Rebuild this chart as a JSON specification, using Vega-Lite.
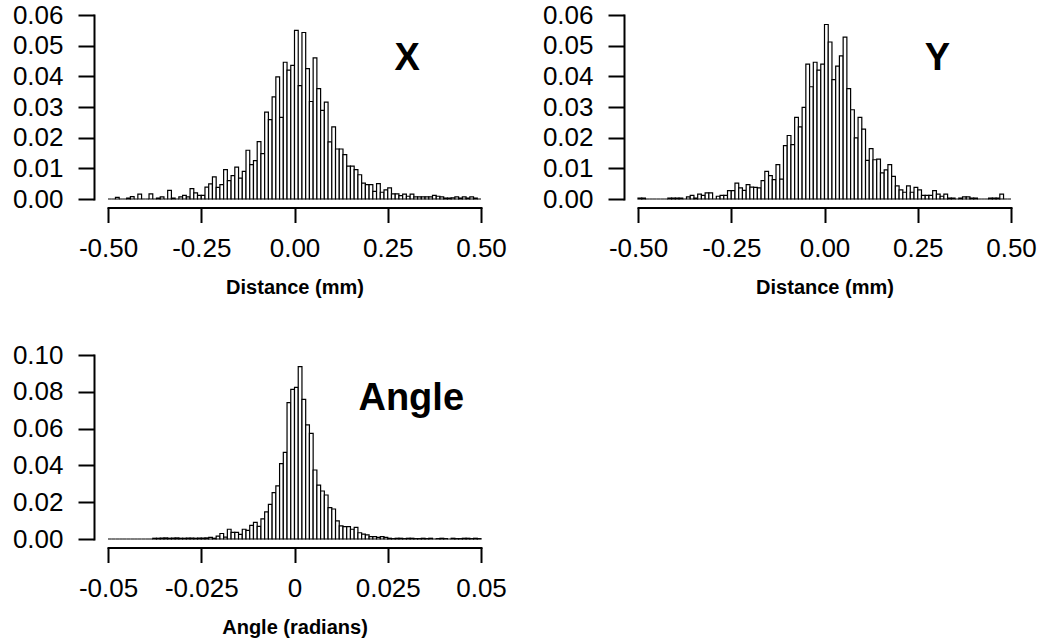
{
"$schema": "https://vega.github.io/schema/vega-lite/v6.json",
"background": "white",
"padding": {"left": 12, "top": 2, "right": 5, "bottom": 5},
"columns": 2,
"spacing": {"row": 156, "column": 157},
"bounds": "flush",
"concat": [
  {"width": 373, "height": 184,
   "layer": [
    {"data": {"name": "xd"},
     "mark": {"type": "rect", "fill": "white", "stroke": "black", "strokeWidth": 1.2},
     "encoding": {
      "x": {"field": "b", "type": "quantitative", "scale": {"domain": [-0.5, 0.5], "nice": false, "zero": false},
            "axis": {"values": [-0.5, -0.25, 0, 0.25, 0.5], "tickCount": 20, "title": "Distance (mm)", "labelOverlap": false, "labelExpr": "(datum.value < 0 ? '-' : '') + format(abs(datum.value), '.2f')"}},
      "x2": {"field": "e"},
      "y": {"field": "v", "type": "quantitative", "scale": {"domain": [0, 0.06], "nice": false},
            "axis": {"values": [0, 0.01, 0.02, 0.03, 0.04, 0.05, 0.06], "tickCount": 20, "title": null, "labelOverlap": false, "labelExpr": "format(datum.value, '.2f')"}},
      "y2": {"datum": 0}
     }},
    {"data": {"values": [{"t": "X", "tx": 0.302, "ty": 0.0421}]},
     "mark": {"type": "text", "fontSize": 38, "fontWeight": "bold", "baseline": "alphabetic", "align": "center", "color": "black"},
     "encoding": {"x": {"field": "tx", "type": "quantitative"}, "y": {"field": "ty", "type": "quantitative"}, "text": {"field": "t"}}}
   ]},
  {"width": 373, "height": 184,
   "layer": [
    {"data": {"name": "yd"},
     "mark": {"type": "rect", "fill": "white", "stroke": "black", "strokeWidth": 1.2},
     "encoding": {
      "x": {"field": "b", "type": "quantitative", "scale": {"domain": [-0.5, 0.5], "nice": false, "zero": false},
            "axis": {"values": [-0.5, -0.25, 0, 0.25, 0.5], "tickCount": 20, "title": "Distance (mm)", "labelOverlap": false, "labelExpr": "(datum.value < 0 ? '-' : '') + format(abs(datum.value), '.2f')"}},
      "x2": {"field": "e"},
      "y": {"field": "v", "type": "quantitative", "scale": {"domain": [0, 0.06], "nice": false},
            "axis": {"values": [0, 0.01, 0.02, 0.03, 0.04, 0.05, 0.06], "tickCount": 20, "title": null, "labelOverlap": false, "labelExpr": "format(datum.value, '.2f')"}},
      "y2": {"datum": 0}
     }},
    {"data": {"values": [{"t": "Y", "tx": 0.303, "ty": 0.0421}]},
     "mark": {"type": "text", "fontSize": 38, "fontWeight": "bold", "baseline": "alphabetic", "align": "center", "color": "black"},
     "encoding": {"x": {"field": "tx", "type": "quantitative"}, "y": {"field": "ty", "type": "quantitative"}, "text": {"field": "t"}}}
   ]},
 {"width": 373, "height": 184,
  "layer": [
   {"data": {"name": "ad"},
    "mark": {"type": "rect", "fill": "white", "stroke": "black", "strokeWidth": 1.2},
    "encoding": {
     "x": {"field": "b", "type": "quantitative", "scale": {"domain": [-0.05, 0.05], "nice": false, "zero": false},
           "axis": {"values": [-0.05, -0.025, 0, 0.025, 0.05], "tickCount": 20, "title": "Angle (radians)", "labelOverlap": false, "labelExpr": "datum.value == 0 ? '0' : (datum.value < 0 ? '-' : '') + format(abs(datum.value), abs(datum.value) > 0.04 ? '.2f' : '.3f')"}},
     "x2": {"field": "e"},
     "y": {"field": "v", "type": "quantitative", "scale": {"domain": [0, 0.1], "nice": false},
           "axis": {"values": [0, 0.02, 0.04, 0.06, 0.08, 0.1], "tickCount": 20, "title": null, "labelOverlap": false, "labelExpr": "format(datum.value, '.2f')"}},
     "y2": {"datum": 0}
    }},
   {"data": {"values": [{"t": "Angle", "tx": 0.0313, "ty": 0.0701}]},
    "mark": {"type": "text", "fontSize": 38, "fontWeight": "bold", "baseline": "alphabetic", "align": "center", "color": "black"},
    "encoding": {"x": {"field": "tx", "type": "quantitative"}, "y": {"field": "ty", "type": "quantitative"}, "text": {"field": "t"}}}
  ]}
],
"datasets": {
 "xd": [
  {"b":-0.50,"e":-0.49,"v":0},{"b":-0.49,"e":-0.48,"v":0},{"b":-0.48,"e":-0.47,"v":0.0005},{"b":-0.47,"e":-0.46,"v":0},{"b":-0.46,"e":-0.45,"v":0},
  {"b":-0.45,"e":-0.44,"v":0.0003},{"b":-0.44,"e":-0.43,"v":0.0008},{"b":-0.43,"e":-0.42,"v":0},{"b":-0.42,"e":-0.41,"v":0.0016},{"b":-0.41,"e":-0.40,"v":0},
  {"b":-0.40,"e":-0.39,"v":0},{"b":-0.39,"e":-0.38,"v":0.0017},{"b":-0.38,"e":-0.37,"v":0},{"b":-0.37,"e":-0.36,"v":0.0003},{"b":-0.36,"e":-0.35,"v":0.0007},
  {"b":-0.35,"e":-0.34,"v":0},{"b":-0.34,"e":-0.33,"v":0.0028},{"b":-0.33,"e":-0.32,"v":0.0003},{"b":-0.32,"e":-0.31,"v":0},{"b":-0.31,"e":-0.30,"v":0.0007},
  {"b":-0.30,"e":-0.29,"v":0.0012},{"b":-0.29,"e":-0.28,"v":0.0007},{"b":-0.28,"e":-0.27,"v":0.0034},{"b":-0.27,"e":-0.26,"v":0.002},{"b":-0.26,"e":-0.25,"v":0.0012},
  {"b":-0.25,"e":-0.24,"v":0.0012},{"b":-0.24,"e":-0.23,"v":0.0039},{"b":-0.23,"e":-0.22,"v":0.0049},{"b":-0.22,"e":-0.21,"v":0.0072},{"b":-0.21,"e":-0.20,"v":0.0038},
  {"b":-0.20,"e":-0.19,"v":0.0047},{"b":-0.19,"e":-0.18,"v":0.0096},{"b":-0.18,"e":-0.17,"v":0.006},{"b":-0.17,"e":-0.16,"v":0.0076},{"b":-0.16,"e":-0.15,"v":0.0104},
  {"b":-0.15,"e":-0.14,"v":0.0068},{"b":-0.14,"e":-0.13,"v":0.009},{"b":-0.13,"e":-0.12,"v":0.0159},{"b":-0.12,"e":-0.11,"v":0.0112},{"b":-0.11,"e":-0.10,"v":0.0125},
  {"b":-0.10,"e":-0.09,"v":0.0187},{"b":-0.09,"e":-0.08,"v":0.0148},{"b":-0.08,"e":-0.07,"v":0.0283},{"b":-0.07,"e":-0.06,"v":0.0259},{"b":-0.06,"e":-0.05,"v":0.0333},
  {"b":-0.05,"e":-0.04,"v":0.0398},{"b":-0.04,"e":-0.03,"v":0.0266},{"b":-0.03,"e":-0.02,"v":0.0446},{"b":-0.02,"e":-0.01,"v":0.042},{"b":-0.01,"e":0.00,"v":0.0436},
  {"b":0.00,"e":0.01,"v":0.055},{"b":0.01,"e":0.02,"v":0.037},{"b":0.02,"e":0.03,"v":0.0543},{"b":0.03,"e":0.04,"v":0.0425},{"b":0.04,"e":0.05,"v":0.0318},
  {"b":0.05,"e":0.06,"v":0.046},{"b":0.06,"e":0.07,"v":0.036},{"b":0.07,"e":0.08,"v":0.0289},{"b":0.08,"e":0.09,"v":0.0316},{"b":0.09,"e":0.10,"v":0.0186},
  {"b":0.10,"e":0.11,"v":0.0235},{"b":0.11,"e":0.12,"v":0.0163},{"b":0.12,"e":0.13,"v":0.0163},{"b":0.13,"e":0.14,"v":0.0145},{"b":0.14,"e":0.15,"v":0.0107},
  {"b":0.15,"e":0.16,"v":0.0107},{"b":0.16,"e":0.17,"v":0.0096},{"b":0.17,"e":0.18,"v":0.0079},{"b":0.18,"e":0.19,"v":0.0052},{"b":0.19,"e":0.20,"v":0.0047},
  {"b":0.20,"e":0.21,"v":0.0047},{"b":0.21,"e":0.22,"v":0.0025},{"b":0.22,"e":0.23,"v":0.005},{"b":0.23,"e":0.24,"v":0.0022},{"b":0.24,"e":0.25,"v":0.003},
  {"b":0.25,"e":0.26,"v":0.0036},{"b":0.26,"e":0.27,"v":0.0017},{"b":0.27,"e":0.28,"v":0.0017},{"b":0.28,"e":0.29,"v":0.0011},{"b":0.29,"e":0.30,"v":0.0016},
  {"b":0.30,"e":0.31,"v":0.0009},{"b":0.31,"e":0.32,"v":0.0016},{"b":0.32,"e":0.33,"v":0.0007},{"b":0.33,"e":0.34,"v":0.0007},{"b":0.34,"e":0.35,"v":0.0007},
  {"b":0.35,"e":0.36,"v":0.0007},{"b":0.36,"e":0.37,"v":0.0007},{"b":0.37,"e":0.38,"v":0.0012},{"b":0.38,"e":0.39,"v":0.0009},{"b":0.39,"e":0.40,"v":0.0007},
  {"b":0.40,"e":0.41,"v":0.0003},{"b":0.41,"e":0.42,"v":0.0003},{"b":0.42,"e":0.43,"v":0.0004},{"b":0.43,"e":0.44,"v":0.0007},{"b":0.44,"e":0.45,"v":0.0003},
  {"b":0.45,"e":0.46,"v":0.0007},{"b":0.46,"e":0.47,"v":0.0003},{"b":0.47,"e":0.48,"v":0.0007},{"b":0.48,"e":0.49,"v":0.0003},{"b":0.49,"e":0.50,"v":0}
 ],
 "yd": [
  {"b":-0.50,"e":-0.49,"v":0.0003},{"b":-0.49,"e":-0.48,"v":0.0003},{"b":-0.48,"e":-0.47,"v":0},{"b":-0.47,"e":-0.46,"v":0},{"b":-0.46,"e":-0.45,"v":0},
  {"b":-0.45,"e":-0.44,"v":0},{"b":-0.44,"e":-0.43,"v":0},{"b":-0.43,"e":-0.42,"v":0},{"b":-0.42,"e":-0.41,"v":0.0003},{"b":-0.41,"e":-0.40,"v":0.0003},
  {"b":-0.40,"e":-0.39,"v":0.0003},{"b":-0.39,"e":-0.38,"v":0.0003},{"b":-0.38,"e":-0.37,"v":0},{"b":-0.37,"e":-0.36,"v":0.0007},{"b":-0.36,"e":-0.35,"v":0.0012},
  {"b":-0.35,"e":-0.34,"v":0.0003},{"b":-0.34,"e":-0.33,"v":0.0016},{"b":-0.33,"e":-0.32,"v":0.0012},{"b":-0.32,"e":-0.31,"v":0.002},{"b":-0.31,"e":-0.30,"v":0.002},
  {"b":-0.30,"e":-0.29,"v":0},{"b":-0.29,"e":-0.28,"v":0.0009},{"b":-0.28,"e":-0.27,"v":0.0012},{"b":-0.27,"e":-0.26,"v":0.0012},{"b":-0.26,"e":-0.25,"v":0.0027},
  {"b":-0.25,"e":-0.24,"v":0.0027},{"b":-0.24,"e":-0.23,"v":0.0052},{"b":-0.23,"e":-0.22,"v":0.0036},{"b":-0.22,"e":-0.21,"v":0.0028},{"b":-0.21,"e":-0.20,"v":0.0047},
  {"b":-0.20,"e":-0.19,"v":0.0039},{"b":-0.19,"e":-0.18,"v":0.0038},{"b":-0.18,"e":-0.17,"v":0.0036},{"b":-0.17,"e":-0.16,"v":0.006},{"b":-0.16,"e":-0.15,"v":0.009},
  {"b":-0.15,"e":-0.14,"v":0.0076},{"b":-0.14,"e":-0.13,"v":0.0063},{"b":-0.13,"e":-0.12,"v":0.0112},{"b":-0.12,"e":-0.11,"v":0.0065},{"b":-0.11,"e":-0.10,"v":0.0174},
  {"b":-0.10,"e":-0.09,"v":0.0207},{"b":-0.09,"e":-0.08,"v":0.0177},{"b":-0.08,"e":-0.07,"v":0.0266},{"b":-0.07,"e":-0.06,"v":0.0235},{"b":-0.06,"e":-0.05,"v":0.0299},
  {"b":-0.05,"e":-0.04,"v":0.044},{"b":-0.04,"e":-0.03,"v":0.0366},{"b":-0.03,"e":-0.02,"v":0.0446},{"b":-0.02,"e":-0.01,"v":0.042},{"b":-0.01,"e":0.00,"v":0.044},
  {"b":0.00,"e":0.01,"v":0.0569},{"b":0.01,"e":0.02,"v":0.0512},{"b":0.02,"e":0.03,"v":0.0389},{"b":0.03,"e":0.04,"v":0.0433},{"b":0.04,"e":0.05,"v":0.0467},
  {"b":0.05,"e":0.06,"v":0.0528},{"b":0.06,"e":0.07,"v":0.036},{"b":0.07,"e":0.08,"v":0.0291},{"b":0.08,"e":0.09,"v":0.0199},{"b":0.09,"e":0.10,"v":0.0266},
  {"b":0.10,"e":0.11,"v":0.0228},{"b":0.11,"e":0.12,"v":0.0126},{"b":0.12,"e":0.13,"v":0.0164},{"b":0.13,"e":0.14,"v":0.0128},{"b":0.14,"e":0.15,"v":0.013},
  {"b":0.15,"e":0.16,"v":0.0085},{"b":0.16,"e":0.17,"v":0.0095},{"b":0.17,"e":0.18,"v":0.0112},{"b":0.18,"e":0.19,"v":0.0074},{"b":0.19,"e":0.20,"v":0.0043},
  {"b":0.20,"e":0.21,"v":0.003},{"b":0.21,"e":0.22,"v":0.0022},{"b":0.22,"e":0.23,"v":0.0043},{"b":0.23,"e":0.24,"v":0.0022},{"b":0.24,"e":0.25,"v":0.0038},
  {"b":0.25,"e":0.26,"v":0.003},{"b":0.26,"e":0.27,"v":0.0012},{"b":0.27,"e":0.28,"v":0.0012},{"b":0.28,"e":0.29,"v":0.0012},{"b":0.29,"e":0.30,"v":0.0027},
  {"b":0.30,"e":0.31,"v":0.0016},{"b":0.31,"e":0.32,"v":0.0009},{"b":0.32,"e":0.33,"v":0.0016},{"b":0.33,"e":0.34,"v":0.0003},{"b":0.34,"e":0.35,"v":0.0003},
  {"b":0.35,"e":0.36,"v":0},{"b":0.36,"e":0.37,"v":0.0003},{"b":0.37,"e":0.38,"v":0.0007},{"b":0.38,"e":0.39,"v":0.0007},{"b":0.39,"e":0.40,"v":0.0003},
  {"b":0.40,"e":0.41,"v":0.0003},{"b":0.41,"e":0.42,"v":0},{"b":0.42,"e":0.43,"v":0},{"b":0.43,"e":0.44,"v":0},{"b":0.44,"e":0.45,"v":0.0003},
  {"b":0.45,"e":0.46,"v":0.0003},{"b":0.46,"e":0.47,"v":0.0003},{"b":0.47,"e":0.48,"v":0.0016},{"b":0.48,"e":0.49,"v":0},{"b":0.49,"e":0.50,"v":0}
 ],
 "ad": [
  {"b":-0.050,"e":-0.049,"v":0},{"b":-0.049,"e":-0.048,"v":0},{"b":-0.048,"e":-0.047,"v":0},{"b":-0.047,"e":-0.046,"v":0},{"b":-0.046,"e":-0.045,"v":0},
  {"b":-0.045,"e":-0.044,"v":0},{"b":-0.044,"e":-0.043,"v":0},{"b":-0.043,"e":-0.042,"v":0},{"b":-0.042,"e":-0.041,"v":0},{"b":-0.041,"e":-0.040,"v":0},
  {"b":-0.040,"e":-0.039,"v":0},{"b":-0.039,"e":-0.038,"v":0},{"b":-0.038,"e":-0.037,"v":0.0004},{"b":-0.037,"e":-0.036,"v":0.0004},{"b":-0.036,"e":-0.035,"v":0.0005},
  {"b":-0.035,"e":-0.034,"v":0.0006},{"b":-0.034,"e":-0.033,"v":0.0004},{"b":-0.033,"e":-0.032,"v":0.0005},{"b":-0.032,"e":-0.031,"v":0.0006},{"b":-0.031,"e":-0.030,"v":0.0004},
  {"b":-0.030,"e":-0.029,"v":0.0004},{"b":-0.029,"e":-0.028,"v":0.0005},{"b":-0.028,"e":-0.027,"v":0.0005},{"b":-0.027,"e":-0.026,"v":0.0004},{"b":-0.026,"e":-0.025,"v":0.0005},
  {"b":-0.025,"e":-0.024,"v":0.0005},{"b":-0.024,"e":-0.023,"v":0.0006},{"b":-0.023,"e":-0.022,"v":0.0009},{"b":-0.022,"e":-0.021,"v":0.0004},{"b":-0.021,"e":-0.020,"v":0.0016},
  {"b":-0.020,"e":-0.019,"v":0.003},{"b":-0.019,"e":-0.018,"v":0.001},{"b":-0.018,"e":-0.017,"v":0.0053},{"b":-0.017,"e":-0.016,"v":0.0036},{"b":-0.016,"e":-0.015,"v":0.0036},
  {"b":-0.015,"e":-0.014,"v":0.0025},{"b":-0.014,"e":-0.013,"v":0.0053},{"b":-0.013,"e":-0.012,"v":0.0047},{"b":-0.012,"e":-0.011,"v":0.0074},{"b":-0.011,"e":-0.010,"v":0.009},
  {"b":-0.010,"e":-0.009,"v":0.0069},{"b":-0.009,"e":-0.008,"v":0.0109},{"b":-0.008,"e":-0.007,"v":0.0147},{"b":-0.007,"e":-0.006,"v":0.0188},{"b":-0.006,"e":-0.005,"v":0.0252},
  {"b":-0.005,"e":-0.004,"v":0.0289},{"b":-0.004,"e":-0.003,"v":0.041},{"b":-0.003,"e":-0.002,"v":0.0471},{"b":-0.002,"e":-0.001,"v":0.0741},{"b":-0.001,"e":0.000,"v":0.0813},
  {"b":0.000,"e":0.001,"v":0.0824},{"b":0.001,"e":0.002,"v":0.0937},{"b":0.002,"e":0.003,"v":0.0759},{"b":0.003,"e":0.004,"v":0.062},{"b":0.004,"e":0.005,"v":0.0574},
  {"b":0.005,"e":0.006,"v":0.0375},{"b":0.006,"e":0.007,"v":0.0293},{"b":0.007,"e":0.008,"v":0.0261},{"b":0.008,"e":0.009,"v":0.0239},{"b":0.009,"e":0.010,"v":0.017},
  {"b":0.010,"e":0.011,"v":0.0163},{"b":0.011,"e":0.012,"v":0.0098},{"b":0.012,"e":0.013,"v":0.0071},{"b":0.013,"e":0.014,"v":0.0067},{"b":0.014,"e":0.015,"v":0.0067},
  {"b":0.015,"e":0.016,"v":0.0053},{"b":0.016,"e":0.017,"v":0.0063},{"b":0.017,"e":0.018,"v":0.0034},{"b":0.018,"e":0.019,"v":0.0027},{"b":0.019,"e":0.020,"v":0.0022},
  {"b":0.020,"e":0.021,"v":0.0013},{"b":0.021,"e":0.022,"v":0.0013},{"b":0.022,"e":0.023,"v":0.0009},{"b":0.023,"e":0.024,"v":0.0013},{"b":0.024,"e":0.025,"v":0.0009},
  {"b":0.025,"e":0.026,"v":0.0004},{"b":0.026,"e":0.027,"v":0.0002},{"b":0.027,"e":0.028,"v":0.0004},{"b":0.028,"e":0.029,"v":0.0004},{"b":0.029,"e":0.030,"v":0.0002},
  {"b":0.030,"e":0.031,"v":0.0004},{"b":0.031,"e":0.032,"v":0.0004},{"b":0.032,"e":0.033,"v":0.0002},{"b":0.033,"e":0.034,"v":0.0002},{"b":0.034,"e":0.035,"v":0.0004},
  {"b":0.035,"e":0.036,"v":0.0002},{"b":0.036,"e":0.037,"v":0.0004},{"b":0.037,"e":0.038,"v":0},{"b":0.038,"e":0.039,"v":0.0002},{"b":0.039,"e":0.040,"v":0.0004},
  {"b":0.040,"e":0.041,"v":0.0002},{"b":0.041,"e":0.042,"v":0},{"b":0.042,"e":0.043,"v":0.0004},{"b":0.043,"e":0.044,"v":0.0002},{"b":0.044,"e":0.045,"v":0.0002},
  {"b":0.045,"e":0.046,"v":0.0004},{"b":0.046,"e":0.047,"v":0.0004},{"b":0.047,"e":0.048,"v":0.0002},{"b":0.048,"e":0.049,"v":0.0004},{"b":0.049,"e":0.050,"v":0.0002}
 ]
},
"config": {
 "view": {"stroke": null},
 "font": "Liberation Sans",
 "axis": {"domainColor": "black", "tickColor": "black", "labelColor": "black", "titleColor": "black", "grid": false,
          "domainWidth": 2, "tickWidth": 2, "labelFont": "Liberation Sans", "titleFont": "Liberation Sans",
          "labelFontSize": 26, "titleFontSize": 20, "titleFontWeight": "bold", "labelFlush": false, "labelOverlap": false, "domainCap": "square"},
 "axisX": {"offset": 8.5, "tickSize": 15, "labelPadding": 13, "titlePadding": 16},
 "axisY": {"offset": 14, "tickSize": 16, "labelPadding": 15}
}
}
